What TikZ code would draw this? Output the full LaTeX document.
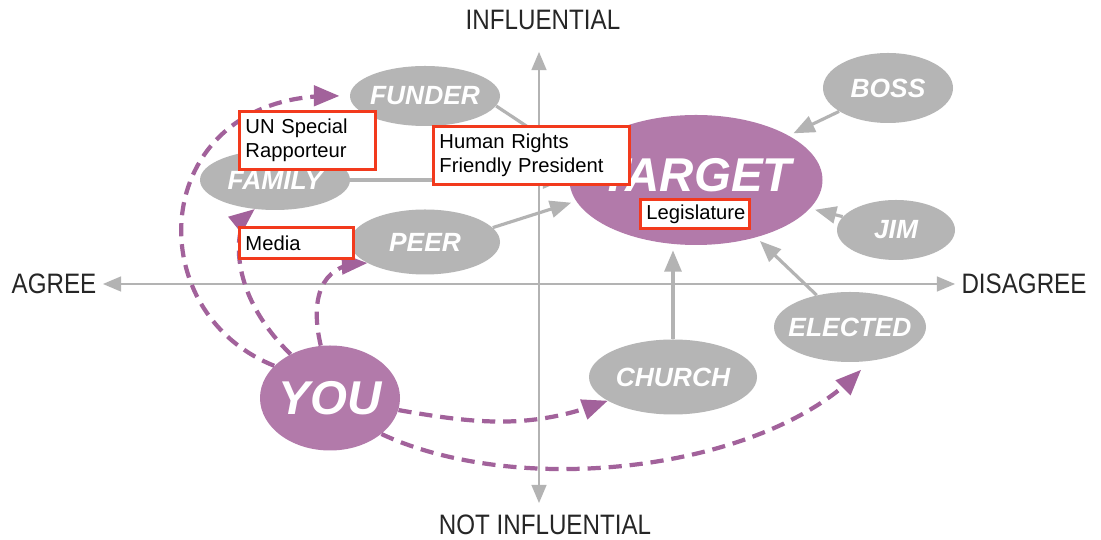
\documentclass[tikz,border=0pt]{standalone}
\usepackage{fontspec}
\setmainfont{Liberation Sans}
\usepackage{graphicx}
\usetikzlibrary{positioning,arrows,shapes.geometric}

\definecolor{ovalgray}{HTML}{B5B5B5}
\definecolor{ovalpurple}{HTML}{B27AAA}
\definecolor{dashpurple}{HTML}{A2629B}
\definecolor{axisgray}{HTML}{B3B3B3}
\definecolor{boxred}{HTML}{F23A1D}

\newcommand{\axistext}[1]{\scalebox{0.86}[1]{#1}}

\begin{document}
\begin{tikzpicture}[
    actor/.style={ellipse, fill=ovalgray, inner sep=0pt},
    key/.style={actor, fill=ovalpurple},
    tag/.style={text=white, font=\fontsize{15}{15}\selectfont\bfseries\itshape},
    bigtag/.style={tag, inner sep=0pt, font=\fontsize{27}{27}\selectfont\bfseries\itshape},
    link/.style={draw=axisgray, line width=1.8pt, -triangle 45, shorten >=3pt},
    reach/.style={draw=dashpurple, line width=2.4pt, dash pattern=on 7.5pt off 4.5pt, -triangle 45},
    axisline/.style={draw=axisgray, line width=1.4pt, triangle 45-triangle 45},
    axislabel/.style={text=black!85, font=\fontsize{16}{16}\selectfont},
    note/.style={draw=boxred, line width=1.7pt, fill=white, inner xsep=0.12cm, inner ysep=2pt,
        align=left, anchor=north west, font=\fontsize{11.5}{13.5}\selectfont}
]

    \fill[white] (0,0) rectangle (22.02,10.8);
    \useasboundingbox (0,0) rectangle (22.02,10.8);

    % axes
    \coordinate (west) at (2.06,5.12);
    \coordinate (east) at (19.1,5.12);
    \coordinate (north) at (10.78,9.76);
    \coordinate (south) at (10.78,0.74);
    \draw[axisline] (west) -- (east);
    \draw[axisline] (north) -- (south);

    \node[axislabel] (infl) at (10.86,10.4) {\axistext{INFLUENTIAL}};
    \node[axislabel] (notinfl) at (10.9,0.3) {\axistext{NOT INFLUENTIAL}};
    \node[axislabel] (agree) at (1.08,5.12) {\axistext{AGREE}};
    \node[axislabel] (disagree) at (20.48,5.12) {\axistext{DISAGREE}};

    % people
    \node[actor, minimum width=3cm, minimum height=1.2cm, label={[tag]center:FUNDER}] (funder) at (8.5,8.88) {};
    \node[actor, minimum width=3cm, minimum height=1.2cm, label={[tag]center:FAMILY}] (family) at (5.5,7.2) {};
    \node[actor, minimum width=3cm, minimum height=1.3cm, label={[tag]center:PEER}] (peer) at (8.5,5.96) {};
    \node[actor, minimum width=2.6cm, minimum height=1.4cm, label={[tag]center:BOSS}] (boss) at (17.76,9.04) {};
    \node[actor, minimum width=2.36cm, minimum height=1.2cm, label={[tag]center:JIM}] (jim) at (17.92,6.2) {};
    \node[actor, minimum width=3.04cm, minimum height=1.4cm, label={[tag]center:ELECTED}] (elected) at (17.0,4.26) {};
    \node[actor, minimum width=3.36cm, minimum height=1.5cm, label={[tag]center:CHURCH}] (church) at (13.46,3.26) {};
    \node[key, minimum width=5.06cm, minimum height=2.6cm, label={[bigtag, yshift=0.1cm]center:TARGET}] (target) at (13.92,7.2) {};
    \node[key, minimum width=2.8cm, minimum height=2.1cm, label={[bigtag]center:YOU}] (you) at (6.6,2.84) {};

    % influence on the target
    \draw[link] (funder.-8) -- (target.170);
    \draw[link] (family) -- (target);
    \draw[link] (peer.12) -- (target.190);
    \draw[link] (boss) -- (target);
    \draw[link] (jim) -- (target);
    \draw[link] (elected) -- (target);
    \draw[link] (church.north) -- (church.north |- target.south);

    % your routes
    \draw[reach, shorten >=6pt] (you.150) .. controls (2.7,4.6) and (3.0,8.9) .. (funder.west);
    \draw[reach] (you.132) .. controls (4.5,5.0) and (4.7,6.3) .. (family.235);
    \draw[reach] (you.100) .. controls (6.2,4.8) and (6.4,5.5) .. (peer.200);
    \draw[reach] (you.-10) to[out=-10, in=200] (church.200);
    \draw[reach, shorten >=0.25cm] (you.-35) to[out=-25, in=225, looseness=0.8] (elected.300);

    % boxes on top
    \node[note, text width=2.48cm, minimum height=1.16cm] (rapporteur) at (4.76,8.6) {UN Special\\Rapporteur};
    \node[note, text width=3.68cm, minimum height=1.16cm] (president) at (8.64,8.3) {Human Rights\\Friendly President};
    \node[note, text width=2.04cm, minimum height=0.62cm] (media) at (4.76,6.28) {Media};
    \node[note, text width=1.94cm, minimum height=0.58cm] (legislature) at (12.78,6.84) {Legislature};

\end{tikzpicture}
\end{document}
